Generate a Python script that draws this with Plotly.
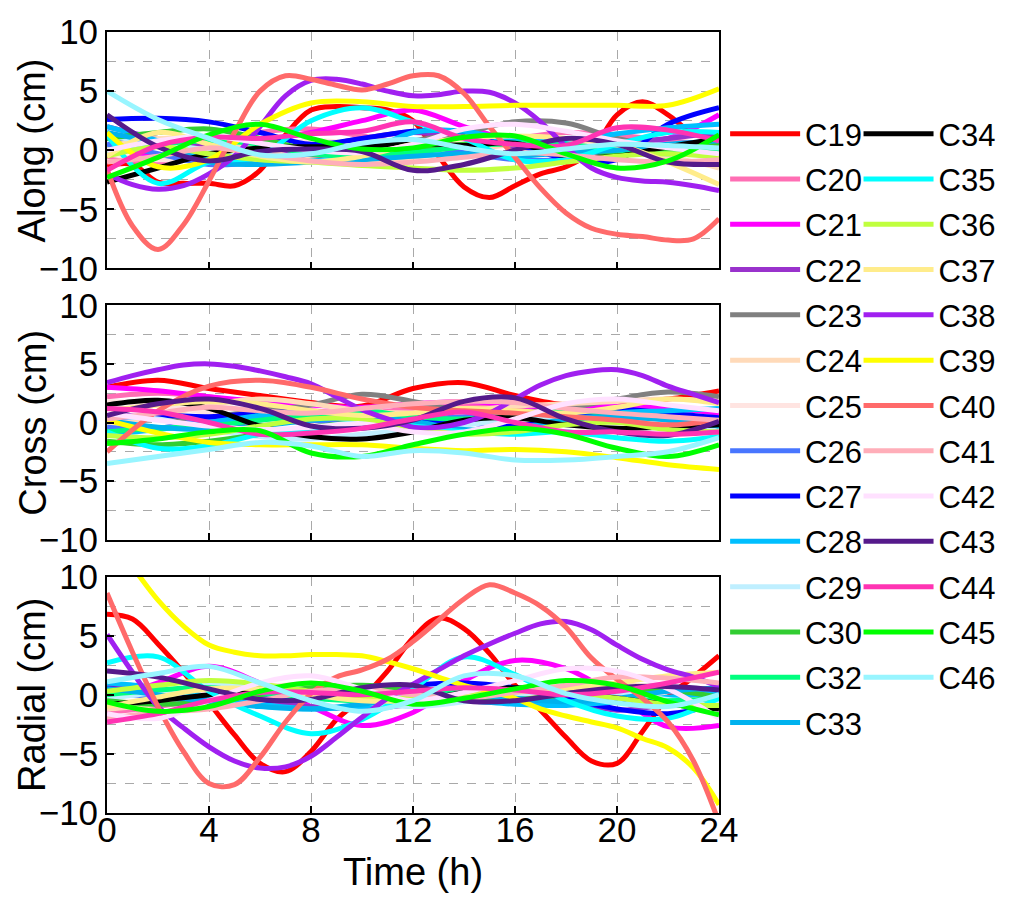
import plotly.graph_objects as go

FONT = "Liberation Sans, Arial, sans-serif"

hours = [0, 2, 4, 6, 8, 10, 12, 14, 16, 18, 20, 22, 24]
hours_fine = list(range(25))

names = ["C19", "C20", "C21", "C22", "C23", "C24", "C25", "C26", "C27", "C28",
         "C29", "C30", "C32", "C33", "C34", "C35", "C36", "C37", "C38", "C39",
         "C40", "C41", "C42", "C43", "C44", "C45", "C46"]
colors = ["#FF0000", "#FF6EB4", "#FF00FF", "#9932CC", "#808080", "#FFDAB9", "#FFE4E1",
          "#4876FF", "#0000FF", "#00BFFF", "#BFEFFF", "#32CD32", "#00FF7F", "#00B2EE",
          "#000000", "#00FFFF", "#C0FF3E", "#FFEC8B", "#A020F0", "#FFFF00", "#FF6A6A",
          "#FFAEB9", "#FFE1FF", "#551A8B", "#FF34B3", "#00FF00", "#98F5FF"]

# ---------------- Along (cm) ----------------
along_C19 = [-1.3, -1.2, -2.7, -2.8, -2.8, -3.0, -1.7, 1.3, 3.4, 3.7, 3.6, 3.4, 2.5, -0.5, -3.1, -4.0, -3.0, -2.0, -1.4, -0.1, 3.0, 4.1, 3.0, 1.4, 1.1]
along_C20 = [-0.5, -1.0, 0.5, 1.5, 1.8, 1.2, 0.5, 0.5, 1.0, 1.5, 1.3, 0.8, 0.5]
along_C21 = [0.5, -0.5, 0.2, 0.8, 1.5, 2.5, 3.4, 2.0, 0.8, 0.5, 0.8, 1.0, 3.0]
along_C22 = [2.0, 1.0, 0.3, -0.5, 0.2, 1.0, 1.5, 1.0, 0.3, -0.3, 0.5, 1.0, 1.5]
along_C23 = [1.0, 0.5, 0.0, -0.5, -0.5, 0.0, 0.8, 1.5, 2.4, 2.3, 1.0, 0.3, 0.5]
along_C24 = [0.3, 1.0, 0.8, 0.0, -0.8, -1.0, -0.6, 0.0, 0.5, 0.8, 0.3, -0.5, -1.5]
along_C25 = [-0.3, -0.8, -0.5, 0.3, 0.8, 0.5, 0.0, -0.4, -0.3, 0.2, 0.5, 0.0, -0.5]
along_C26 = [0.5, -0.3, -1.2, -1.0, -0.3, 0.3, 0.5, -0.2, -0.8, -0.8, -0.3, 0.4, 0.5]
along_C27 = [2.6, 2.7, 2.4, 1.5, 0.5, 1.0, 1.6, 1.6, 0.5, -0.7, -0.8, 2.2, 3.6]
along_C28 = [2.0, 0.8, -0.8, -0.9, -0.9, -0.3, 1.5, 1.6, 0.8, 0.9, 1.4, 1.9, 2.2]
along_C29 = [1.2, 0.6, 0.0, -0.8, -1.0, -0.6, 0.0, 0.4, 0.5, 0.2, -0.2, -0.1, 0.3]
along_C30 = [1.0, 1.5, 1.8, 1.0, 0.0, -0.5, 0.0, 0.5, 0.5, 0.2, -0.3, 0.0, 0.6]
along_C32 = [0.0, 0.5, 0.8, 0.5, -0.3, -0.5, -0.2, 0.3, 0.6, 0.5, 0.0, -0.3, 0.0]
along_C33 = [1.5, 0.5, -1.0, -1.2, -1.0, -0.8, -0.5, -0.3, -0.5, -0.2, 0.0, 0.5, 0.8]
along_C34 = [-2.7, -1.5, -0.3, 0.2, 0.3, 0.3, 0.6, 0.4, 0.6, -0.5, -0.5, 0.3, 1.0]
along_C35 = [1.3, -2.8, -1.0, -0.5, 2.5, 3.6, 2.4, 1.0, -0.8, -0.8, 0.5, 1.5, 1.5]
along_C36 = [-0.5, 0.3, -0.3, -0.8, -1.0, -1.3, -1.5, -1.7, -1.5, -1.0, -0.5, -0.3, -0.6]
along_C37 = [-0.5, 1.5, 0.5, -0.5, -1.0, -0.5, 0.5, 1.0, 1.2, 1.0, 0.5, -1.0, -2.9]
along_C38 = [-2.0, -2.9, -3.3, -3.0, -2.0, -0.5, 2.0, 4.6, 5.9, 6.0, 5.6, 5.0, 4.6, 4.7, 5.0, 4.9, 4.0, 2.4, 0.3, -1.5, -2.3, -2.6, -2.7, -3.0, -3.4]
along_C39 = [1.5, -1.4, -0.8, 2.2, 4.0, 4.1, 3.7, 3.7, 3.8, 3.8, 3.8, 3.8, 5.2]
along_C40 = [-1.6, -6.4, -8.4, -6.3, -2.6, 1.5, 5.0, 6.3, 6.0, 5.5, 5.1, 5.6, 6.3, 6.3, 4.8, 2.0, -0.6, -3.2, -5.3, -6.6, -7.1, -7.3, -7.6, -7.5, -5.8]
along_C41 = [-1.0, -0.5, 0.2, -0.3, -0.9, -1.2, -1.0, -0.6, -0.2, -0.4, -0.8, -1.0, -0.8]
along_C42 = [0.0, 0.8, 1.2, 0.6, 0.0, -0.2, 0.5, 1.8, 2.2, 1.6, 0.8, 0.2, -0.3]
along_C43 = [3.0, 0.3, -0.9, -0.1, 0.1, -0.1, -1.7, -1.2, 0.0, 1.0, 0.5, -1.0, -1.2]
along_C44 = [-1.7, 0.4, 1.1, 1.0, 1.4, 1.6, 2.4, 1.0, 0.5, 0.4, 1.9, 1.7, 0.8]
along_C45 = [-2.3, -0.6, 1.3, 2.2, 1.0, 0.1, 0.2, 1.1, 1.2, -0.3, -1.5, -0.9, 1.3]
along_C46 = [5.0, 2.6, 1.0, -0.4, -0.3, 0.6, 0.9, 0.2, -0.3, 0.1, 0.5, 0.4, 0.2]

# ---------------- Cross (cm) ----------------
cross_C19 = [3.0, 3.6, 2.9, 2.3, 1.7, 1.4, 2.9, 3.4, 2.3, 1.5, 1.7, 2.0, 2.7]
cross_C20 = [2.2, 2.5, 2.2, 1.5, 1.0, 0.8, 1.2, 1.6, 1.3, 0.8, 0.6, 0.3, 0.5]
cross_C21 = [3.0, 2.7, 2.2, 1.8, 1.5, 1.3, 1.6, 1.8, 1.5, 1.2, 1.4, 1.2, 0.8]
cross_C22 = [0.8, 0.3, -0.2, 0.0, 0.5, 0.2, -0.6, -0.2, 0.8, 1.0, 0.5, -0.5, -0.8]
cross_C23 = [0.5, 0.3, 0.5, 1.0, 1.5, 2.4, 1.8, 1.0, 0.8, 1.2, 2.0, 2.6, 2.2]
cross_C24 = [0.0, 0.5, 1.5, 2.0, 1.6, 1.0, 0.8, 1.0, 1.4, 1.6, 1.8, 2.0, 1.8]
cross_C25 = [1.8, 1.5, 0.8, 0.2, 0.0, 0.3, 0.6, 0.2, -0.4, -0.8, -0.6, 0.0, 0.3]
cross_C26 = [-0.4, -0.5, 0.3, 0.5, 0.2, -0.2, 0.2, 0.5, 0.6, 0.8, 1.0, 0.4, 0.0]
cross_C27 = [0.3, 0.6, 0.5, 0.8, 0.9, 0.6, 0.3, 0.0, -0.3, 0.5, 1.1, 0.8, 0.4]
cross_C28 = [-1.0, -0.6, 0.0, 0.6, 0.9, 0.5, -0.4, -0.8, -0.7, 0.0, 0.8, 1.0, 1.2]
cross_C29 = [0.5, 0.3, -0.6, -1.2, -1.4, -1.0, -0.6, -0.2, 0.2, 0.4, 0.2, -0.3, -0.5]
cross_C30 = [-1.6, -1.9, -1.6, -1.0, -0.4, 0.0, -0.3, -0.8, -0.6, 0.2, 0.6, 0.3, -0.3]
cross_C32 = [-0.8, -0.5, -0.3, 0.2, 0.6, 1.0, 0.5, 0.3, 0.6, 1.0, 0.8, 0.3, 0.0]
cross_C33 = [0.2, -0.4, -0.6, -0.3, 0.2, 0.4, 0.1, -0.6, -0.5, 0.3, 0.5, 0.2, -0.3]
cross_C34 = [1.5, 1.9, 1.2, -0.3, -1.2, -1.4, -0.8, 0.2, 0.4, -0.2, -0.5, -0.4, -0.2]
cross_C35 = [-0.8, -2.2, -2.0, -1.0, -0.5, 0.0, -0.3, -0.8, -1.0, -0.8, -1.3, -1.6, -1.2]
cross_C36 = [-1.1, -1.3, -1.0, -0.3, 0.3, 0.3, -0.5, -1.0, -0.8, -0.2, 0.0, -0.6, -0.8]
cross_C37 = [1.0, 1.5, 1.8, 1.6, 1.0, 0.6, 0.8, 1.2, 1.0, 0.8, 1.3, 2.0, 1.6]
cross_C38 = [3.4, 4.0, 4.5, 4.9, 5.0, 4.8, 4.4, 3.9, 3.3, 2.2, 1.1, 0.3, -0.4, -0.4, 0.0, 0.8, 2.0, 3.2, 4.0, 4.4, 4.5, 4.0, 3.1, 2.4, 1.7]
cross_C39 = [0.2, -0.9, -1.7, -1.9, -1.9, -1.9, -2.2, -2.4, -2.3, -2.5, -3.0, -3.6, -4.0]
cross_C40 = [-2.5, 1.0, 3.1, 3.6, 3.0, 2.0, 1.3, 1.0, 0.8, 0.5, 0.2, -0.2, 0.2]
cross_C41 = [0.3, 0.8, 1.3, 1.0, 0.8, 1.2, 1.6, 1.8, 1.7, 1.2, 0.8, 0.5, 0.2]
cross_C42 = [0.8, 0.2, -0.3, -0.6, -0.4, -0.1, -0.8, -0.8, 0.3, 1.6, 2.0, 1.5, 1.0]
cross_C43 = [0.6, 1.6, 2.0, 1.2, -0.3, -0.5, 0.2, 1.8, 2.1, 0.3, -0.8, -1.1, 0.1]
cross_C44 = [1.2, 0.9, 0.0, -1.0, -0.9, -0.5, 0.3, 0.9, 0.0, -0.8, -0.8, -1.0, -0.8]
cross_C45 = [-1.8, -1.4, -0.8, -0.7, -2.6, -2.9, -1.9, -1.0, -0.5, -1.0, -2.2, -2.9, -1.9]
cross_C46 = [-3.5, -2.9, -2.3, -1.7, -2.0, -2.9, -2.4, -2.6, -3.2, -3.2, -2.9, -2.5, -1.3]

# ---------------- Radial (cm) ----------------
radial_C19 = [6.8, 6.4, 4.3, 1.9, -0.7, -3.4, -5.8, -6.5, -4.8, -2.1, -0.3, 2.0, 4.8, 6.5, 5.6, 3.5, 0.8, -1.3, -3.6, -5.6, -5.8, -3.1, -0.2, 1.5, 3.3]
radial_C20 = [-1.5, -1.0, -0.3, 0.4, 0.6, 0.2, -0.3, -0.4, 0.0, 0.5, 0.6, 0.3, 0.0]
radial_C21 = [-0.5, 1.0, 2.4, 1.0, -1.0, -2.6, -1.5, 1.2, 2.9, 2.2, -0.1, -2.7, -2.6]
radial_C22 = [0.8, 0.5, 0.0, -0.5, -1.0, -1.2, -0.8, -0.2, 0.2, -0.5, -1.3, -0.8, 0.0]
radial_C23 = [0.3, 0.0, -0.2, 0.0, 0.4, 0.5, 0.2, -0.2, -0.3, 0.0, 0.3, 0.4, 0.2]
radial_C24 = [-1.2, -0.8, 0.0, 0.6, 0.9, 0.6, 0.0, -0.4, -0.3, 0.3, 0.8, 0.6, 0.2]
radial_C25 = [-0.8, -0.3, 0.4, 0.8, 0.5, -0.1, -0.5, -0.3, 0.3, 0.7, 0.4, -0.2, -0.5]
radial_C26 = [0.2, -0.2, -0.6, -0.3, 0.2, 0.6, 0.4, -0.2, -0.6, -0.4, 0.2, 0.5, 0.3]
radial_C27 = [0.5, 0.2, -0.3, -0.5, -0.2, 0.3, 0.8, 1.0, 0.6, -0.3, -1.2, -1.6, -0.8]
radial_C28 = [1.0, 0.6, -0.2, -0.8, -1.2, -1.0, -0.5, -0.5, -0.8, -0.9, -0.6, -0.2, 0.2]
radial_C29 = [-0.3, 0.2, 0.8, 0.6, 0.0, -0.6, -1.0, -0.6, 0.0, 0.4, 0.2, -0.4, -0.6]
radial_C30 = [-0.5, -0.8, -0.6, 0.0, 0.6, 0.8, 0.4, -0.2, -0.4, 0.0, 0.5, 0.4, -0.2]
radial_C32 = [0.0, 0.4, 0.6, 0.2, -0.3, -0.5, -0.2, 0.3, 0.5, 0.2, -0.3, -0.5, -0.3]
radial_C33 = [0.5, 0.0, -0.6, -1.0, -1.2, -0.8, -0.3, 0.0, -0.3, -0.6, -0.3, 0.3, 0.6]
radial_C34 = [-0.8, -0.5, 0.0, 0.5, 0.3, -0.2, -0.5, 0.2, 0.6, 0.3, -0.3, -0.8, -1.2]
radial_C35 = [2.7, 3.2, 0.3, -1.8, -3.3, -2.1, 0.5, 3.2, 1.7, -0.5, -1.8, -2.0, -0.3]
radial_C36 = [0.3, 0.8, 1.2, 0.9, 0.3, -0.2, -0.3, 0.0, 0.3, 0.2, -0.3, -0.8, -0.9]
radial_C37 = [-1.0, -0.2, 0.5, 0.5, 0.0, -0.5, -0.5, -0.2, 0.2, 0.5, 1.0, 1.6, 1.9]
radial_C38 = [5.1, 1.9, -1.0, -2.8, -4.4, -5.6, -6.2, -6.1, -5.2, -3.6, -1.9, -0.3, 0.9, 2.1, 3.3, 4.3, 5.2, 6.0, 6.2, 5.5, 4.2, 3.0, 2.1, 1.5, 0.7]
radial_C39 = [13.5, 10.8, 8.0, 5.8, 4.2, 3.6, 3.3, 3.3, 3.4, 3.4, 3.3, 2.8, 2.2, 1.5, 0.8, 0.3, -0.3, -1.2, -1.8, -2.3, -2.8, -3.7, -4.5, -6.2, -9.3]
radial_C40 = [8.6, 3.6, -1.0, -4.8, -7.5, -7.6, -5.3, -2.3, 0.1, 1.5, 2.1, 3.0, 4.5, 6.3, 8.1, 9.3, 8.6, 7.5, 5.7, 3.1, 1.3, -0.3, -2.3, -5.6, -10.8]
radial_C41 = [-2.0, -1.5, -1.2, -0.5, 0.3, 0.5, 0.0, -0.3, 0.2, 0.8, 1.5, 1.4, 1.0]
radial_C42 = [-1.6, -2.0, -0.5, 1.0, 1.6, 0.5, -0.5, 0.2, 1.2, 2.2, 2.0, 0.5, -2.0]
radial_C43 = [2.0, 1.5, 0.5, -0.4, -0.4, 0.6, 0.8, -0.5, -0.5, 0.1, 0.6, 0.7, 0.4]
radial_C44 = [-2.3, -1.6, -0.5, 0.2, 0.2, 0.0, 0.3, 0.6, 0.4, 0.0, 0.3, 1.0, 1.9]
radial_C45 = [-0.6, -1.4, -1.0, 0.3, 1.0, 0.3, -0.8, -0.3, 0.5, 1.2, 0.8, -0.6, -1.7]
radial_C46 = [1.1, 1.8, 2.4, 1.0, -0.5, -1.4, -0.5, 1.6, 1.6, 0.1, -0.7, -1.0, 0.0]

panel_titles = ["Along (cm)", "Cross (cm)", "Radial (cm)"]
x_ticks = [0, 4, 8, 12, 16, 20, 24]
y_ticks = [-10, -5, 0, 5, 10]
y_minor = [-7.5, -2.5, 2.5, 7.5]

g = globals()
panels = [{n: g["along_" + n] for n in names},
          {n: g["cross_" + n] for n in names},
          {n: g["radial_" + n] for n in names}]

fig = go.Figure()
col2_start = names.index("C34")
for p, data in enumerate(panels):
    xa = "x" if p == 0 else "x%d" % (p + 1)
    ya = "y" if p == 0 else "y%d" % (p + 1)
    for i, n in enumerate(names):
        vals = data[n]
        xs = hours_fine if len(vals) == len(hours_fine) else hours
        fig.add_trace(go.Scatter(
            x=xs, y=vals, mode="lines", name=n,
            line=dict(color=colors[i], width=5, shape="spline", smoothing=1.0),
            xaxis=xa, yaxis=ya, legendgroup=n,
            legend="legend" if i < col2_start else "legend2",
            showlegend=(p == 0), hoverinfo="skip"))

# panel domains (paper fraction, bottom to top)
domains = [[0.6972, 1.0], [0.3499, 0.6501], [0.0, 0.3028]]
grid_c = "#A9A9A9"
for p in range(3):
    sfx = "" if p == 0 else str(p + 1)
    fig.layout["xaxis" + sfx] = dict(
        domain=[0, 1], anchor="y" + sfx, range=[0, 24], tickvals=x_ticks,
        showticklabels=(p == 2), ticks="inside", ticklen=7, tickwidth=1.5, tickcolor="black",
        showline=True, mirror=True, linecolor="black", linewidth=1.8,
        showgrid=True, gridcolor=grid_c, griddash="dash", gridwidth=1,
        zeroline=False, tickfont=dict(size=35, family=FONT, color="black"),
        ticklabelstandoff=-15,
        matches=None if p == 0 else "x")
    fig.layout["yaxis" + sfx] = dict(
        domain=domains[p], anchor="x" + sfx, range=[-10, 10], tickvals=y_ticks,
        ticks="inside", ticklen=7, tickwidth=1.5, tickcolor="black",
        showline=True, mirror=True, linecolor="black", linewidth=1.8,
        showgrid=True, gridcolor=grid_c, griddash="dash", gridwidth=1,
        minor=dict(tickvals=y_minor, showgrid=True, gridcolor=grid_c, griddash="dash", gridwidth=1),
        zeroline=False, tickfont=dict(size=35, family=FONT, color="black"))

annos = []
for p in range(3):
    yc = (domains[p][0] + domains[p][1]) / 2
    annos.append(dict(text=panel_titles[p], xref="paper", yref="paper", x=-0.1223, y=yc,
                      xanchor="center", yanchor="middle", textangle=-90, showarrow=False,
                      font=dict(size=38, family=FONT, color="black")))
annos.append(dict(text="Time (h)", xref="paper", yref="paper", x=0.5, y=-0.075,
                  xanchor="center", yanchor="middle", showarrow=False,
                  font=dict(size=38, family=FONT, color="black")))

leg_common = dict(yanchor="top", xanchor="left", bgcolor="rgba(0,0,0,0)", borderwidth=0,
                  font=dict(size=31, family=FONT, color="black"), itemwidth=70,
                  tracegroupgap=2, traceorder="grouped")
fig.update_layout(
    width=1012, height=905,
    margin=dict(l=107, r=292, t=27, b=92),
    paper_bgcolor="white", plot_bgcolor="white",
    font=dict(family=FONT, color="black"),
    annotations=annos,
    legend=dict(x=1.01, y=0.904, **leg_common),
    legend2=dict(x=1.228, y=0.904, **leg_common),
)

fig.write_html("out.html", config={"displayModeBar": False},
               post_script="document.body.style.margin='0';document.body.style.padding='0';")
